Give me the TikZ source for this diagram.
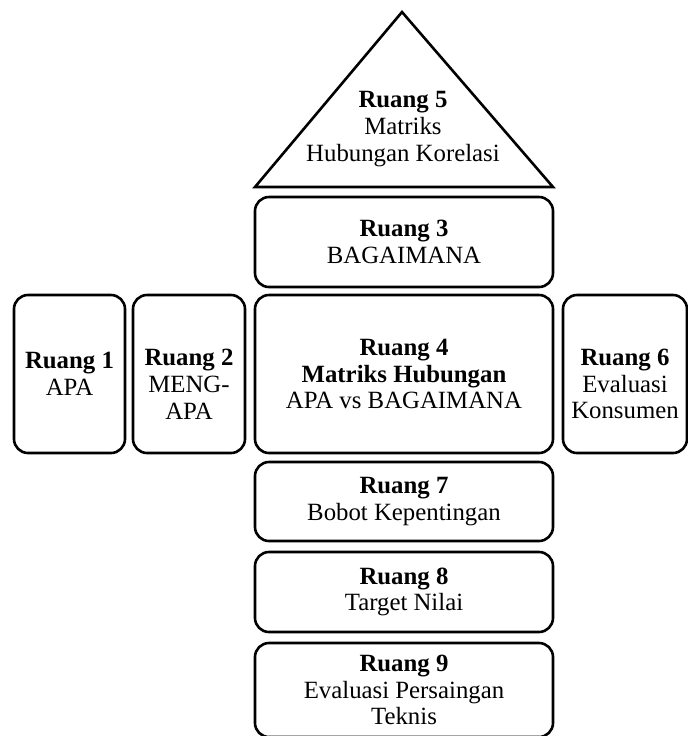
\documentclass[tikz,border=0pt]{standalone}
\usepackage{fontspec}
\setmainfont{Liberation Serif}
\usepackage{tikz}
\usetikzlibrary{positioning}

\begin{document}
\begin{tikzpicture}[x=0.5pt,y=-0.5pt, line width=1.3pt, font=\fontsize{12.4}{13.4}\selectfont]

  \tikzstyle{ruang}=[draw=black,rounded corners=7pt,align=center,inner sep=2pt,outer sep=0pt,minimum width=149pt]

  \useasboundingbox (0,0) rectangle (688,736);
  \clip (0,0) rectangle (688,736);

  \node[ruang, minimum height=79pt] (r4) at (404,374) {\textbf{Ruang 4}\\\textbf{Matriks Hubungan}\\APA vs BAGAIMANA};
  \node[ruang, minimum height=45pt] (r3) [above=4pt of r4] {\textbf{Ruang 3}\\BAGAIMANA};
  \node[ruang, minimum width=56pt, minimum height=79pt, text height=45pt] (r2) [left=5pt of r4] {\textbf{Ruang 2}\\MENG-\\APA};
  \node[ruang, minimum width=55.5pt, minimum height=79pt] (r1) [left=4pt of r2] {\textbf{Ruang 1}\\APA};
  \node[ruang, minimum width=62pt, minimum height=79pt, text height=45pt] (r6) [right=5pt of r4] {\textbf{Ruang 6}\\Evaluasi\\Konsumen};
  \node[ruang, minimum height=39.5pt] (r7) [below=4.5pt of r4] {\textbf{Ruang 7}\\Bobot Kepentingan};
  \node[ruang, minimum height=40pt] (r8) [below=5.5pt of r7] {\textbf{Ruang 8}\\Target Nilai};
  \node[ruang, minimum height=47pt] (r9) [below=5.5pt of r8] {\textbf{Ruang 9}\\Evaluasi Persaingan\\Teknis};

  % atap
  \coordinate[above=5pt of r3.north west] (kiri);
  \coordinate[above=5pt of r3.north east] (kanan);
  \coordinate (puncak) at (402,12);
  \draw (kiri) -- (puncak) -- (kanan) -- cycle;
  \node[align=center] (r5) at (403,129) {\textbf{Ruang 5}\\Matriks\\Hubungan Korelasi};

\end{tikzpicture}
\end{document}
